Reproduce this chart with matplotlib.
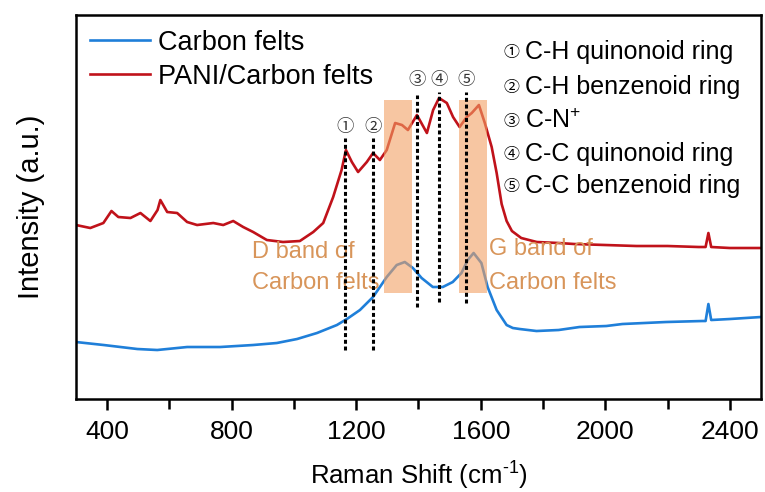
import matplotlib
matplotlib.use('Agg')
import matplotlib.pyplot as plt
from matplotlib.ticker import MultipleLocator
from matplotlib.patches import Rectangle

plt.rcParams['font.family'] = ['Liberation Sans', 'Noto Sans CJK JP', 'DejaVu Sans']
plt.rcParams['mathtext.fontset'] = 'custom'
plt.rcParams['mathtext.rm'] = 'Liberation Sans'
plt.rcParams['axes.unicode_minus'] = False

# Raman spectra (arbitrary intensity units)
cf_shift = [300, 389, 497, 561, 657, 763, 869, 945, 1010, 1074, 1138, 1170, 1212,
            1254, 1298, 1330, 1356, 1382, 1410, 1446, 1478, 1510, 1538, 1558, 1577,
            1602, 1622, 1651, 1683, 1703, 1725, 1779, 1850, 1917, 2003, 2055, 2195,
            2311, 2322, 2331, 2340, 2400, 2500]
cf_int = [57, 54, 50, 49, 52, 52, 54, 56, 60, 66, 74, 80, 89,
          102, 122, 134, 137, 131, 121, 112, 112, 117, 126, 139, 146,
          136, 112, 89, 74, 71, 70, 68, 69, 72, 73, 75, 77,
          78, 78, 95, 79, 80, 82]

pani_shift = [300, 346, 388, 414, 436, 475, 507, 539, 562, 571, 593, 625, 657, 689,
              741, 773, 805, 837, 869, 913, 965, 1019, 1062, 1094, 1126, 1153, 1167,
              1186, 1206, 1234, 1254, 1276, 1298, 1325, 1347, 1366, 1395, 1427, 1447,
              1466, 1491, 1511, 1532, 1555, 1571, 1594, 1613, 1635, 1651, 1667, 1683,
              1700, 1730, 1780, 1850, 1900, 2000, 2100, 2200, 2300, 2322, 2331, 2340,
              2400, 2500]
pani_int = [174, 171, 176, 188, 182, 181, 186, 178, 189, 199, 187, 186, 177, 174,
            176, 174, 178, 172, 167, 159, 157, 158, 167, 176, 202, 229, 249,
            237, 227, 237, 246, 239, 249, 276, 274, 269, 284, 266, 289,
            301, 296, 282, 272, 282, 286, 294, 276, 252, 226, 195, 178,
            168, 161, 157, 156, 155, 154, 153, 153, 152, 152, 166, 152,
            151, 151]

# assigned PANI bands
peak_pos = [1165, 1255, 1395, 1466, 1553]
peak_marks = ['①', '②', '③', '④', '⑤']
peak_names = ['C-H quinonoid ring', 'C-H benzenoid ring', 'C-N$^\\mathregular{+}$',
              'C-C quinonoid ring', 'C-C benzenoid ring']

# carbon D and G band regions
band_ranges = [(1290, 1378), (1530, 1620)]

fig = plt.figure(figsize=(7.65, 4.92), dpi=100)
ax = fig.add_axes([0.0993, 0.189, 0.8955, 0.7805])

ax.plot(cf_shift, cf_int, color='#1f7fd9', lw=1.9, label='Carbon felts')
ax.plot(pani_shift, pani_int, color='#c0121a', lw=1.9, label='PANI/Carbon felts')

for lo, hi in band_ranges:
    ax.add_patch(Rectangle((lo, 106), hi - lo, 193, facecolor='#f3a164',
                           alpha=0.6, edgecolor='none', zorder=3))

# dotted guide lines under each peak label
line_spans = [(49, 261), (49, 261), (92, 304), (97, 307), (96, 307)]
label_y = [272, 272, 319, 319, 319]
for x, (y0, y1), ly, m in zip(peak_pos, line_spans, label_y, peak_marks):
    ax.plot([x, x], [y0, y1], color='black', lw=2.2, ls=(0, (1.3, 0.9)), zorder=4)
    ax.text(x, ly, m, ha='center', va='center', fontsize=12.5,
            family=['Noto Sans CJK JP', 'DejaVu Sans'], color='#333333')

# band assignments on the right
row_y = [347, 312, 278, 245, 213]
for m, name, y in zip(peak_marks, peak_names, row_y):
    ax.text(1699, y, m, ha='center', va='center', fontsize=11.5,
            family=['Noto Sans CJK JP', 'DejaVu Sans'])
    ax.text(1741, y, name, ha='left', va='center', fontsize=18)

tan = '#d8955a'
ax.text(866, 147, 'D band of', color=tan, fontsize=17, ha='left', va='center')
ax.text(866, 116, 'Carbon felts', color=tan, fontsize=17, ha='left', va='center')
ax.text(1625, 150, 'G band of', color=tan, fontsize=17, ha='left', va='center')
ax.text(1625, 116, 'Carbon felts', color=tan, fontsize=17, ha='left', va='center')

ax.set_xlim(300, 2500)
ax.set_ylim(0, 384)
ax.xaxis.set_major_locator(MultipleLocator(400))
ax.xaxis.set_minor_locator(MultipleLocator(200))
ax.set_yticks([])
ax.tick_params(axis='x', which='major', direction='out', length=8, width=1.8,
               labelsize=19, pad=7)
ax.tick_params(axis='x', which='minor', direction='out', length=7, width=1.8)
for s in ax.spines.values():
    s.set_linewidth(1.8)

ax.set_xlabel('Raman Shift (cm$^\\mathregular{\u2010 1}$)', fontsize=18.5, labelpad=10)
ax.set_ylabel('Intensity (a.u.)', fontsize=21, labelpad=22)

ax.legend(loc='upper left', bbox_to_anchor=(-0.015, 1.025), frameon=False,
          fontsize=19.5, handlelength=2.2, handletextpad=0.3, labelspacing=0.3,
          borderaxespad=0.5)

fig.savefig('out.png', dpi=100)
